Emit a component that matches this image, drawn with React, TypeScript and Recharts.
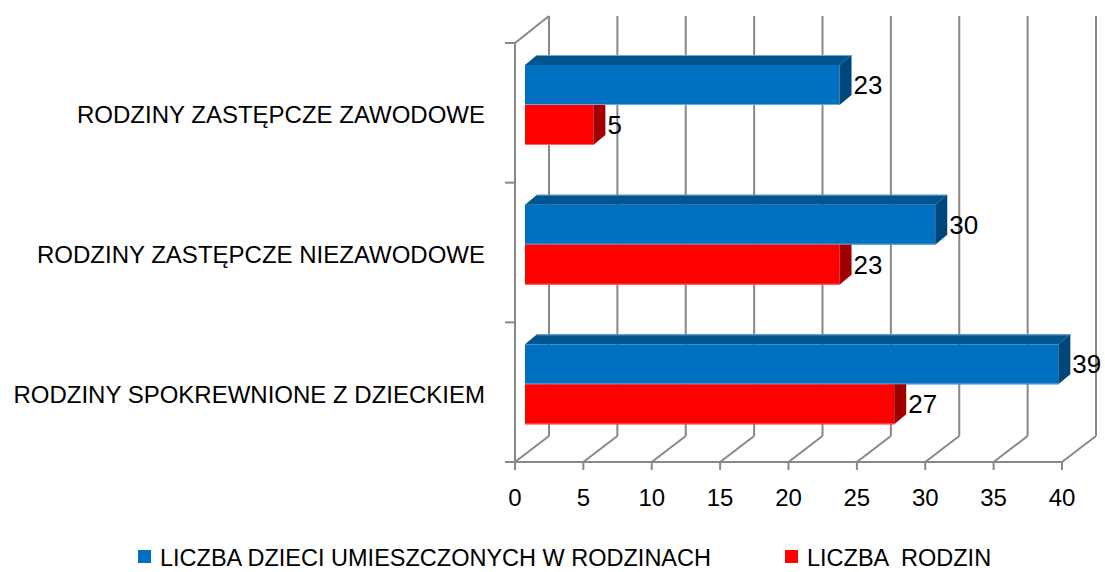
import React from 'react';
import { BarChart, Bar, XAxis, YAxis, CartesianGrid, Legend } from 'recharts';

// values
const categories = [
  'RODZINY ZASTĘPCZE ZAWODOWE',
  'RODZINY ZASTĘPCZE NIEZAWODOWE',
  'RODZINY SPOKREWNIONE Z DZIECKIEM',
];
const liczbaDzieci = [23, 30, 39];
const liczbaRodzin = [5, 23, 27];
const xTicks = [0, 5, 10, 15, 20, 25, 30, 35, 40];
const seriesNames = ['LICZBA DZIECI UMIESZCZONYCH W RODZINACH', 'LICZBA  RODZIN'];

const data = categories.map((name, i) => ({
  name,
  dzieci: liczbaDzieci[i],
  rodziny: liczbaRodzin[i],
}));

// layout
const W = 1105;
const H = 572;
const PLOT_LEFT = 515;
const PLOT_TOP = 43;
const PLOT_BOTTOM = 462;
const BAND = (PLOT_BOTTOM - PLOT_TOP) / categories.length;
const WALL_DX = 34; // depth of the back wall
const WALL_DY = 26;
const BAR_DX = 10; // bar front face sits a bit into the depth
const BAR_DY = 8;
const BAR_DEPTH_X = 12;
const BAR_DEPTH_Y = 10;
const GRID = '#888888';
const FONT = '"Liberation Sans", Arial, sans-serif';
const FS = 23.5;

const BLUE = { front: '#0070C0', top: '#00558f', side: '#00467a', edge: '#6fa6d6' };
const RED = { front: '#FF0000', top: '#c00000', side: '#a00000', edge: '#ff6060' };

function make3DBar(c: typeof BLUE, under: boolean) {
  return (props: any) => {
    const { x, y, width, height } = props;
    if (width == null || width <= 0) return <g />;
    const fx = x + BAR_DX;
    const fy = y - BAR_DY;
    const rx = fx + width;
    const side = under
      ? `${rx},${fy} ${rx + BAR_DEPTH_X},${fy} ${rx + BAR_DEPTH_X},${fy + height - BAR_DEPTH_Y} ${rx},${fy + height}`
      : `${rx},${fy} ${rx + BAR_DEPTH_X},${fy - BAR_DEPTH_Y} ${rx + BAR_DEPTH_X},${fy + height - BAR_DEPTH_Y} ${rx},${fy + height}`;
    return (
      <g>
        {!under && (
          <polygon
            points={`${fx},${fy} ${fx + BAR_DEPTH_X},${fy - BAR_DEPTH_Y} ${rx + BAR_DEPTH_X},${fy - BAR_DEPTH_Y} ${rx},${fy}`}
            fill={c.top}
          />
        )}
        {!under && (
          <line x1={fx + BAR_DEPTH_X} y1={fy - BAR_DEPTH_Y + 0.5} x2={rx + BAR_DEPTH_X} y2={fy - BAR_DEPTH_Y + 0.5} stroke={c.edge} strokeWidth={1} />
        )}
        <rect x={fx} y={fy} width={width} height={height} fill={c.front} />
        <line x1={fx} y1={fy + height - 0.5} x2={rx} y2={fy + height - 0.5} stroke={c.edge} strokeWidth={1} />
        <polygon points={side} fill={c.side} />
      </g>
    );
  };
}

const renderValue = (props: any) => {
  const { x, y, width, height, value } = props;
  return (
    <text
      x={x + BAR_DX + width + BAR_DEPTH_X + 2}
      y={y - BAR_DY + height / 2}
      dominantBaseline="central"
      fontSize={26}
      fontFamily={FONT}
      fill="#000"
    >
      {value}
    </text>
  );
};

// back wall + floor drawn from the grid positions of the x axis
const wallLine = (props: any) => {
  const { x1, y1, y2, index } = props;
  return (
    <g key={`wall-${index}`}>
      <line x1={x1 + WALL_DX} y1={y1 - WALL_DY - 1} x2={x1 + WALL_DX} y2={y2 - WALL_DY} stroke={GRID} strokeWidth={2} />
      <line x1={x1 + WALL_DX} y1={y2 - WALL_DY} x2={x1} y2={y2} stroke={GRID} strokeWidth={2} />
      {index === 0 && (
        <line x1={x1} y1={y1} x2={x1 + WALL_DX} y2={y1 - WALL_DY - 1} stroke={GRID} strokeWidth={2} />
      )}
    </g>
  );
};

const XTick = (props: any) => {
  const { x, y, payload } = props;
  return (
    <text x={x} y={y + 25} textAnchor="middle" dominantBaseline="central" fontSize={24} fontFamily={FONT} fill="#000">
      {payload.value}
    </text>
  );
};

const YTick = (props: any) => {
  const { y, payload, index } = props;
  const top = y - BAND / 2;
  return (
    <g>
      <line x1={PLOT_LEFT - 10} y1={top} x2={PLOT_LEFT} y2={top} stroke={GRID} strokeWidth={2} />
      {index === categories.length - 1 && (
        <line x1={PLOT_LEFT - 10} y1={y + BAND / 2} x2={PLOT_LEFT} y2={y + BAND / 2} stroke={GRID} strokeWidth={2} />
      )}
      <text x={PLOT_LEFT - 30} y={y + 2} textAnchor="end" dominantBaseline="central" fontSize={24} fontFamily={FONT} fill="#000">
        {payload.value}
      </text>
    </g>
  );
};

const LegendBox = () => {
  const colors = [BLUE.front, RED.front];
  const lefts = [138, 785];
  return (
    <div style={{ position: 'relative', height: 30, width: W, fontFamily: FONT, fontSize: FS, color: '#000' }}>
      {seriesNames.map((n, i) => (
        <div key={n}>
          <div style={{ position: 'absolute', left: lefts[i], top: 7, width: 13, height: 13, background: colors[i] }} />
          <div style={{ position: 'absolute', left: lefts[i] + 22, top: 0, lineHeight: '30px', whiteSpace: 'pre' }}>{n}</div>
        </div>
      ))}
    </div>
  );
};

export default function App() {
  return (
    <div style={{ position: 'absolute', left: 0, top: 0, width: W, height: H, background: '#fff' }}>
      <BarChart
        width={W}
        height={H}
        data={data}
        layout="vertical"
        margin={{ top: PLOT_TOP, right: W - 1062, left: 0, bottom: 0 }}
        barGap={0}
        barSize={40}
      >
        <CartesianGrid horizontal={false} vertical={wallLine} />
        <XAxis
          type="number"
          domain={[0, 40]}
          ticks={xTicks}
          height={H - PLOT_BOTTOM}
          axisLine={{ stroke: GRID, strokeWidth: 2 }}
          tickLine={{ stroke: GRID, strokeWidth: 2 }}
          tickSize={8}
          tick={<XTick />}
          interval={0}
        />
        <YAxis
          type="category"
          dataKey="name"
          width={PLOT_LEFT}
          axisLine={{ stroke: GRID, strokeWidth: 2 }}
          tickLine={false}
          tick={<YTick />}
          interval={0}
        />
        <Legend
          layout="horizontal"
          verticalAlign="middle"
          content={<LegendBox />}
          wrapperStyle={{ position: 'absolute', left: 0, top: 543, width: W, height: 30 }}
        />
        <Bar dataKey="dzieci" name={seriesNames[0]} shape={make3DBar(BLUE, false)} label={renderValue} isAnimationActive={false} />
        <Bar dataKey="rodziny" name={seriesNames[1]} shape={make3DBar(RED, true)} label={renderValue} isAnimationActive={false} />
      </BarChart>
    </div>
  );
}
